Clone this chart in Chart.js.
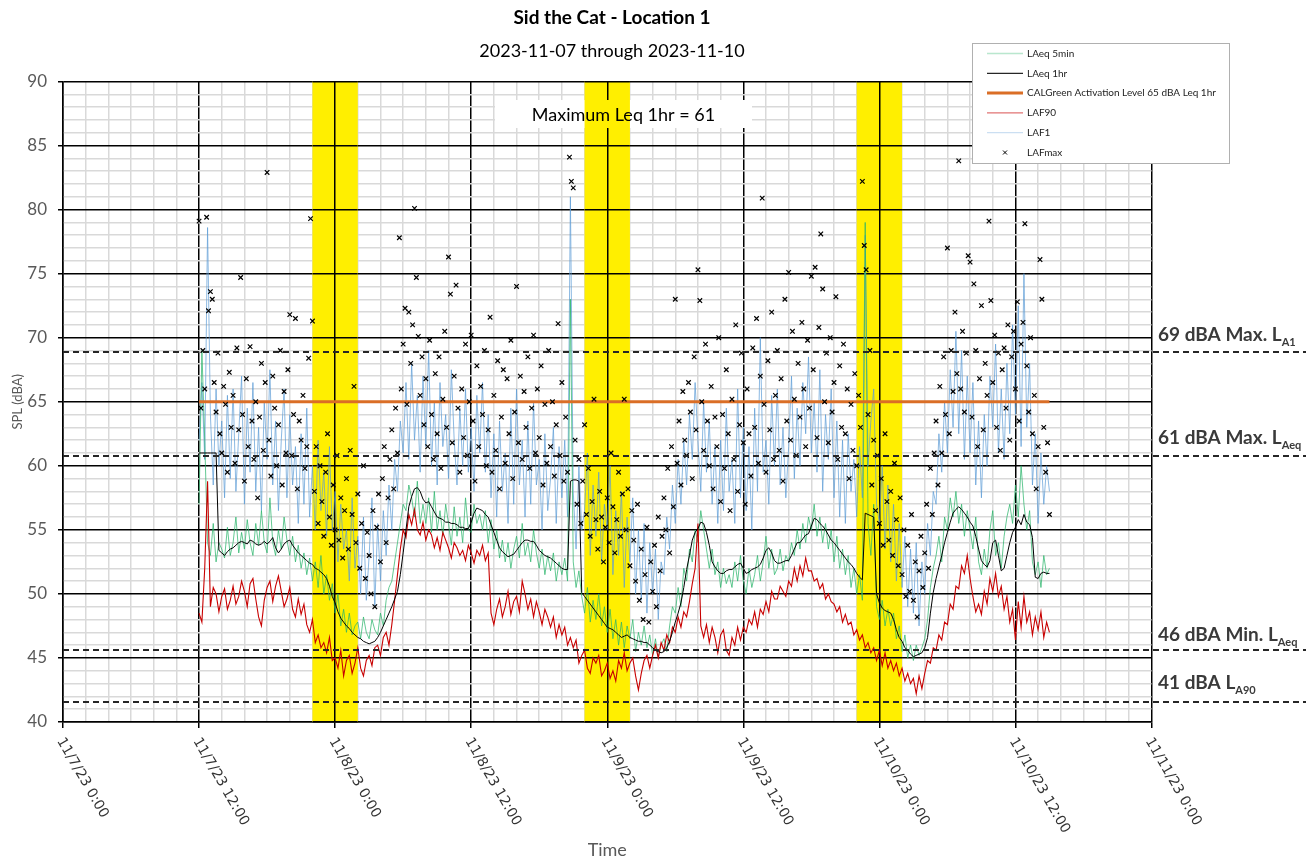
<!DOCTYPE html>
<html><head><meta charset="utf-8">
<script src="https://cdn.jsdelivr.net/npm/chart.js@4.4.0/dist/chart.umd.min.js"></script>
<style>html,body{margin:0;padding:0;background:#fff;}#wrap{width:1316px;height:861px;}</style>
</head><body><div id="wrap"><canvas id="c" width="1316" height="861"></canvas></div>
<script>
// ---------- DATA ----------
const titleText = 'Sid the Cat - Location 1';
const subtitleText = '2023-11-07 through 2023-11-10';
const maxLeqText = 'Maximum Leq 1hr = 61';
// time axis in hours from 11/7/23 0:00
const startHour = 12;          // first sample 11/7/23 12:00
const stepLine = 0.25;         // 15-minute samples for the line series
const stepMax = 1 / 6;         // 10-minute samples for LAFmax
const xTickHours = [0, 12, 24, 36, 48, 60, 72, 84, 96];
const xTickLabels = ['11/7/23 0:00', '11/7/23 12:00', '11/8/23 0:00', '11/8/23 12:00', '11/9/23 0:00',
  '11/9/23 12:00', '11/10/23 0:00', '11/10/23 12:00', '11/11/23 0:00'];
const nightBands = [[22, 26], [46, 50], [70, 74]];
const calGreenLevel = 65;
const calGreenSpan = [12, 87];
const refValues = [68.9, 60.8, 45.6, 41.6];
const refLabels = ['69 dBA Max. L', '61 dBA Max. L', '46 dBA Min. L', '41 dBA L'];
const refSubs = ['A1', 'Aeq', 'Aeq', 'A90'];

const laeq1hr = [
61.0,61.0,61.0,61.0, 61.0,61.0,61.0,53.4, 53.2,53.0,53.3,53.5,
53.6,53.8,54.0,54.1, 54.0,53.9,54.2,54.1, 53.9,53.8,53.9,54.1,
53.9,54.1,54.4,53.6, 53.2,53.5,53.9,54.1, 54.2,53.8,53.5,53.2,
53.0,52.8,52.6,52.4, 52.3,52.0,51.9,51.7, 51.5,51.2,50.6,49.8,
49.3,48.6,48.1,47.8, 47.5,47.3,47.0,46.8, 46.6,46.5,46.3,46.2,
46.1,46.2,46.3,46.6, 47.0,47.5,48.0,48.5, 49.0,49.6,50.2,51.5,
53.2,55.0,56.8,57.6, 58.2,58.3,58.0,57.4, 57.1,57.2,56.8,56.4,
56.0,55.9,55.8,55.6, 55.6,55.5,55.5,55.4, 55.2,55.2,55.1,55.1,
55.6,56.3,56.7,56.6, 56.5,56.2,56.0,55.4, 54.8,54.2,53.6,53.3,
53.1,52.9,53.0,53.1, 53.4,53.7,54.0,54.2, 54.2,54.1,54.1,53.8,
53.4,53.2,53.0,52.9, 52.8,52.6,52.4,52.2, 52.0,51.9,51.9,58.8,
58.9,58.9,58.8,50.1, 49.8,49.5,49.2,48.9, 48.6,48.3,48.0,47.7,
47.4,47.3,47.2,47.0, 46.8,46.6,46.7,46.8, 46.6,46.5,46.4,46.3,
46.3,46.2,46.2,46.0, 45.8,45.6,45.5,45.4, 45.5,45.8,46.3,47.0,
47.8,48.5,49.3,50.5, 51.9,53.0,54.2,54.8, 55.1,55.6,55.5,54.8,
53.8,52.5,52.1,51.8, 51.6,51.6,51.8,51.9, 51.9,52.1,52.3,52.4,
52.0,51.6,51.7,51.9, 52.0,52.1,52.3,52.8, 53.4,53.6,53.2,52.6,
52.4,52.4,52.5,52.6, 52.6,53.0,53.5,54.0, 54.0,54.3,54.6,54.7,
55.3,55.9,55.8,55.5, 55.3,55.0,54.6,54.2, 54.0,53.7,53.4,53.1,
52.8,52.5,52.3,52.0, 51.6,51.3,51.1,56.3, 56.2,56.1,56.0,50.0,
49.3,48.9,48.7,48.6, 48.5,48.0,47.2,46.6, 46.3,45.8,45.6,45.3,
45.1,45.2,45.3,45.4, 45.8,46.6,48.5,50.1, 51.2,52.1,53.0,54.0,
54.8,55.6,56.3,56.6, 56.8,56.6,56.3,56.0, 55.6,55.3,54.5,53.5,
52.6,52.3,52.1,52.6, 54.0,54.2,53.0,51.8, 52.0,53.0,54.0,54.8,
55.2,55.8,55.4,56.2, 55.6,55.4,54.4,51.3, 51.2,51.6,51.7,51.6,
51.6];

const laeq5min = [
57.0,69.0,62.0,54.0, 53.0,55.5,52.5,54.0, 53.5,52.8,55.2,53.0,
54.0,56.0,53.2,54.8, 53.5,55.8,54.0,53.0, 55.5,53.8,56.5,54.0,
53.2,57.5,54.0,53.0, 55.0,53.5,56.0,54.2, 53.0,54.5,52.5,53.8,
52.0,53.2,51.5,52.8, 51.0,52.5,50.5,53.0, 50.0,51.5,49.5,50.8,
48.5,50.0,47.5,48.8, 47.0,48.5,46.8,47.5, 47.8,46.5,48.2,47.0,
46.5,48.0,47.2,46.8, 48.5,47.5,49.5,50.5, 51.0,52.5,54.0,55.5,
57.0,56.5,58.5,57.5, 56.0,58.8,55.5,57.0, 55.5,57.5,54.8,58.0,
55.0,56.5,54.5,57.0, 55.5,53.8,56.8,54.5, 56.0,54.0,57.5,55.0,
54.8,57.0,55.5,56.2, 55.0,56.5,54.0,55.8, 53.5,55.0,52.8,54.2,
52.5,54.0,52.0,53.5, 54.5,52.8,55.5,53.0, 54.0,52.5,55.0,53.2,
52.0,53.5,51.5,53.0, 51.8,53.2,51.0,52.5, 51.5,52.8,51.0,73.0,
52.5,50.5,51.8,49.8, 48.5,50.5,47.8,49.5, 48.0,50.0,47.5,49.0,
47.0,48.8,46.5,48.0, 46.0,47.8,45.8,47.5, 46.5,48.0,45.5,47.0,
46.0,47.5,45.8,46.8, 45.2,46.5,45.0,46.0, 46.5,45.5,47.5,49.0,
48.5,50.5,49.0,52.0, 51.0,53.5,52.5,55.0, 54.0,56.5,55.0,53.5,
52.0,53.5,51.5,52.5, 50.5,52.0,50.8,51.5, 50.5,52.5,51.0,53.0,
51.0,50.0,52.0,50.5, 51.5,53.0,51.0,52.5, 54.5,52.0,53.5,51.5,
52.0,53.5,51.8,53.0, 52.5,54.0,53.0,55.0, 53.5,55.5,54.0,56.0,
55.0,57.0,54.5,56.0, 54.0,55.5,53.5,55.0, 52.5,54.5,52.0,53.5,
51.5,53.0,50.5,52.0, 50.0,51.5,49.5,79.0, 55.5,53.0,57.0,49.0,
48.0,49.5,47.5,48.8, 47.5,48.5,46.5,47.5, 45.5,46.8,45.0,46.0,
44.8,46.0,45.2,45.8, 46.5,48.0,50.5,52.0, 53.0,54.5,52.5,56.0,
55.0,57.5,56.0,58.0, 55.5,57.0,54.5,56.5, 55.0,53.5,56.0,52.5,
51.5,53.5,52.0,55.0, 56.5,53.0,54.0,52.0, 54.5,56.0,57.0,55.5,
58.5,56.0,60.0,57.0, 55.0,56.5,52.5,51.5, 52.5,50.5,53.0,51.5,
52.0];

const laf90 = [
48.5,47.8,52.0,58.8, 49.0,50.5,50.0,48.6, 49.8,50.4,48.8,49.5,
50.6,49.2,49.8,51.0, 50.2,49.0,50.8,51.2, 49.6,48.2,47.5,49.5,
50.5,51.0,49.4,50.6, 51.4,50.2,49.0,49.6, 50.5,48.8,48.2,49.6,
48.4,49.2,47.6,47.0, 48.0,46.2,46.8,45.8, 46.2,45.4,46.6,44.8,
45.0,44.2,45.6,43.6, 44.8,45.2,43.8,44.6, 45.8,44.2,43.6,44.8,
45.2,44.4,45.8,46.0, 45.2,46.6,47.0,46.0, 47.6,49.5,51.5,53.5,
55.0,54.4,56.2,55.4, 56.6,55.0,54.6,55.6, 54.2,55.0,54.6,53.6,
54.4,53.4,54.8,54.2, 53.6,52.8,54.0,53.6, 53.0,53.4,52.6,53.8,
53.2,52.4,53.4,53.0, 53.8,52.6,53.2,48.5, 47.6,48.8,49.6,48.2,
49.0,50.2,48.4,49.4, 49.8,48.6,51.0,50.0, 48.8,49.6,48.2,49.4,
48.6,47.6,48.8,48.2, 47.4,48.2,46.6,47.6, 46.8,47.4,46.0,46.6,
45.8,46.4,44.6,45.2, 45.6,44.2,43.8,45.0, 44.6,45.2,43.6,44.0,
44.6,43.4,44.0,43.2, 44.8,44.2,45.4,44.0, 44.6,45.0,43.6,42.5,
43.8,44.8,45.2,44.2, 45.2,46.0,45.0,46.2, 45.6,46.8,46.2,47.4,
47.0,48.2,47.4,48.6, 48.2,49.4,50.8,52.0, 55.5,47.5,46.6,47.6,
46.2,47.4,46.6,45.4, 46.8,47.2,45.6,45.2, 46.6,46.0,47.4,46.4,
47.4,47.0,48.0,47.6, 48.6,47.4,48.8,48.4, 49.4,48.6,50.2,49.6,
49.6,50.6,50.2,49.8, 51.0,50.6,52.0,51.0, 52.2,51.4,52.8,51.8,
51.8,51.0,51.2,50.4, 50.8,49.6,50.0,49.4, 49.2,48.6,49.0,47.8,
48.4,47.6,47.8,46.8, 47.2,46.4,46.8,45.8, 46.2,45.4,45.8,44.8,
45.6,44.4,45.4,44.2, 44.8,44.0,44.6,43.6, 44.2,43.2,43.8,43.0,
43.4,42.2,43.6,42.6, 43.8,44.8,44.6,45.8, 45.6,46.8,46.4,47.8,
47.6,49.2,48.8,50.6, 50.4,52.2,51.6,53.0, 51.2,49.8,48.6,49.2,
48.4,50.2,49.2,51.2, 50.2,51.6,49.8,50.6, 48.8,49.8,47.8,48.8,
46.4,49.4,47.4,49.8, 47.8,48.6,46.8,48.2, 47.2,48.6,46.6,47.8,
47.0];

const laf1 = [
62.0,66.5,60.5,78.6, 64.0,58.5,66.0,60.0, 63.5,57.5,65.5,59.0,
66.0,58.0,62.5,67.0, 57.0,64.5,59.5,66.5, 58.0,63.0,56.5,65.0,
60.5,67.5,58.5,63.5, 56.5,62.0,66.0,57.5, 64.0,58.5,61.5,55.5,
62.5,57.0,64.5,56.0, 60.0,55.0,62.0,56.5, 59.5,54.5,61.5,55.0,
58.0,52.5,57.0,53.5, 55.0,51.0,57.5,52.0, 54.5,50.0,56.0,49.5,
53.0,57.5,49.0,55.5, 51.0,56.5,53.0,58.5, 55.0,60.5,58.0,63.5,
61.0,66.5,60.5,68.0, 62.0,65.5,59.5,67.0, 61.5,69.0,60.0,65.0,
58.5,66.5,61.5,64.0, 59.0,67.5,62.0,58.5, 64.5,60.0,66.0,59.5,
63.0,58.0,65.5,61.0, 66.5,59.5,64.0,57.5, 62.5,56.0,63.5,58.0,
61.0,55.5,64.5,57.0, 66.0,58.5,62.0,56.0, 63.5,57.0,65.0,58.5,
60.5,55.0,62.5,56.5, 59.0,63.0,55.5,61.5, 57.5,62.0,56.0,81.0,
58.0,53.5,60.0,55.0, 56.5,61.0,53.0,58.5, 54.5,59.5,52.5,57.0,
55.0,60.0,51.5,56.5, 53.0,58.0,50.5,56.0, 52.5,57.5,50.0,55.0,
49.5,55.5,48.5,54.0, 50.0,53.5,48.0,52.5, 51.5,56.0,53.5,58.5,
55.5,60.5,57.0,62.0, 58.5,64.0,60.5,66.5, 62.0,58.0,65.0,59.5,
63.5,57.0,61.5,55.5, 62.0,56.5,64.5,58.0, 60.5,55.5,66.0,57.5,
63.0,56.5,61.5,55.0, 64.5,58.0,70.0,59.5, 62.0,57.0,65.5,60.0,
66.0,58.5,63.0,57.5, 61.5,67.0,59.0,64.5, 60.0,66.5,62.5,68.5,
61.0,65.0,59.5,67.5, 58.0,64.0,60.5,66.0, 57.5,63.5,56.0,62.0,
55.5,62.5,58.0,60.5, 56.0,61.5,57.5,78.0, 60.0,63.5,66.0,57.0,
55.5,60.0,53.5,58.5, 52.5,57.0,51.0,55.5, 50.5,54.5,49.0,53.5,
48.5,54.0,47.5,52.5, 50.0,55.5,53.0,58.0, 57.0,62.5,59.5,65.0,
61.0,67.5,63.0,70.5, 62.5,69.0,60.5,67.0, 61.0,66.5,58.5,63.5,
57.5,64.0,60.0,67.0, 63.0,69.5,61.0,66.0, 60.5,68.0,62.5,71.0,
64.0,72.5,61.5,75.0, 63.0,68.0,58.5,62.5, 55.5,61.0,57.0,60.0,
58.0];

const lafmax = [
79.1,64.5,69.0,66.0,79.4,72.1, 73.6,73.0,66.5,64.2,68.8,62.5, 61.0,66.2,64.8,59.5,67.3,63.0,
65.5,60.2,69.2,62.8,74.7,64.0, 58.8,66.8,61.5,69.3,63.5,60.5, 65.0,57.5,63.8,68.0,61.2,66.5,
82.9,62.0,59.2,67.0,64.5,60.0, 63.2,69.0,58.5,65.8,61.0,67.5, 71.8,60.8,64.0,71.5,58.2,63.5,
62.0,65.5,59.8,61.5,68.4,79.3, 71.3,58.0,61.5,55.5,60.0,57.2, 54.5,59.5,62.5,56.0,53.8,58.5,
55.0,60.8,54.2,57.5,52.8,56.5, 59.0,53.5,61.2,56.2,66.2,54.0, 57.8,52.0,55.5,60.0,51.2,54.8,
53.0,50.0,56.5,49.0,55.2,57.8, 52.5,59.0,61.5,54.0,57.5,60.5, 62.8,58.2,64.5,61.0,77.8,66.0,
69.5,72.3,64.8,72.0,68.0,71.0, 80.1,74.7,70.1,65.5,68.5,63.2, 66.8,61.5,69.8,64.0,60.5,67.2,
62.5,68.5,59.8,65.2,70.5,63.0, 76.3,73.4,61.8,67.0,74.1,64.5, 59.5,66.0,62.2,69.5,60.8,65.0,
70.2,63.5,58.8,67.8,61.5,66.2, 64.0,69.0,60.0,62.8,71.6,59.5, 65.5,61.2,68.2,58.2,63.8,67.5,
60.2,66.8,62.5,69.8,59.0,64.2, 74.0,61.8,67.0,60.5,65.8,63.0, 68.5,59.8,64.5,70.2,61.0,66.0,
62.2,67.8,58.5,64.8,60.2,69.0, 61.5,65.0,59.2,63.2,71.1,60.8, 66.5,58.8,63.8,59.5,84.1,82.2,
81.7,62.0,57.0,60.5,55.5,58.8, 63.2,56.2,59.8,54.5,57.2,65.2, 55.8,53.5,58.0,56.0,52.5,55.2,
57.5,54.0,61.0,56.8,53.2,55.8, 59.5,54.5,57.8,65.2,55.0,58.2, 52.2,56.5,54.2,51.0,57.0,49.5,
53.5,48.0,51.5,55.2,47.8,52.5, 50.2,53.8,49.0,56.0,51.8,54.5, 57.5,55.0,59.8,53.2,61.5,56.8,
73.0,60.2,63.5,58.5,65.8,62.0, 60.8,66.5,64.2,59.0,68.5,62.8, 75.3,72.9,65.0,61.2,69.5,63.5,
60.0,66.2,58.2,63.8,61.5,70.0, 57.2,64.0,59.8,67.5,62.5,56.5, 65.2,60.5,71.0,58.0,63.2,68.8,
61.8,57.0,66.0,62.5,59.2,69.2, 63.0,71.5,60.2,67.0,80.9,64.8, 59.5,68.2,62.8,72.0,60.5,65.5,
69.0,61.2,66.8,58.8,73.0,63.5, 75.1,62.0,70.5,65.2,60.8,68.0, 63.8,71.2,66.0,61.5,69.8,64.5,
74.8,67.5,75.5,62.2,70.8,78.1, 73.8,65.0,68.8,61.8,70.0,64.2, 66.5,73.2,60.5,67.8,63.0,69.5,
62.5,66.0,59.0,64.8,61.2,67.2, 60.0,65.5,63.0,82.2,77.2,75.3, 64.0,69.0,58.5,62.0,56.5,60.8,
55.5,59.0,53.8,62.5,57.2,54.2, 58.0,53.0,60.2,55.8,52.2,57.5, 51.5,55.0,49.8,53.8,50.2,56.2,
49.5,52.5,48.2,51.8,54.5,50.5, 53.2,57.0,52.0,59.8,56.2,61.0, 63.5,58.5,66.2,61.0,68.5,64.0,
77.0,62.5,69.0,65.8,72.0,67.2, 83.8,66.0,70.5,64.2,68.8,76.4, 75.9,63.8,74.2,69.0,61.5,66.8,
72.5,62.8,68.0,65.5,79.1,72.9, 66.5,70.2,63.0,68.8,61.2,67.5, 69.2,64.5,71.0,62.0,68.5,70.5,
66.0,72.8,63.5,69.5,71.2,78.9, 67.8,64.2,70.0,62.5,65.5,58.2, 61.5,76.1,73.0,63.0,59.5,61.8,
56.2];

// ---------- STYLE ----------
const GRID_W = 1.5;
const noteBox = { x: 495, y: 100, w: 257, h: 28 };
const refEndX = 1306, refTextX = 1158;
const refBaseOffsets = [11, 12, 9, 13];
const legendBox = { x: 972, y: 43, w: 257, h: 120 };

const toPoints = (arr, step) => arr.map((v, i) => ({ x: startHour + i * step, y: v }));
const isMajorX = v => v % 12 === 0;
const isMajorY = v => v % 5 === 0;
const al = (p, w) => Math.round(p - w / 2) + w / 2;

const deco = {
  id: 'deco',
  beforeDatasetsDraw(chart) {
    const { ctx, chartArea: a, scales: { x, y } } = chart;
    const b = noteBox;
    ctx.save();
    ctx.fillStyle = '#fff';
    ctx.fillRect(b.x, b.y, b.w, b.h);
    nightBands.forEach(([s, e]) => {
      const x0 = x.getPixelForValue(s), x1 = x.getPixelForValue(e);
      ctx.fillStyle = '#FFEF00';
      ctx.fillRect(x0, a.top, x1 - x0, a.bottom - a.top);
      ctx.save();
      ctx.beginPath();
      ctx.rect(x0, a.top - 2, x1 - x0, a.bottom - a.top + 4);
      ctx.rect(b.x, b.y, b.w, b.h);
      ctx.clip('evenodd');
      ctx.strokeStyle = '#000'; ctx.lineWidth = GRID_W;
      y.ticks.forEach(t => {
        if (!isMajorY(t.value)) return;
        const py = al(y.getPixelForValue(t.value), GRID_W);
        ctx.beginPath(); ctx.moveTo(x0, py); ctx.lineTo(x1, py); ctx.stroke();
      });
      x.ticks.forEach(t => {
        if (!isMajorX(t.value) || t.value <= s || t.value >= e) return;
        const px = al(x.getPixelForValue(t.value), GRID_W);
        ctx.beginPath(); ctx.moveTo(px, a.top); ctx.lineTo(px, a.bottom); ctx.stroke();
      });
      ctx.restore();
    });
    ctx.fillStyle = '#000';
    ctx.font = '18px Lato';
    ctx.textAlign = 'center'; ctx.textBaseline = 'middle';
    ctx.fillText(maxLeqText, b.x + b.w / 2, b.y + b.h / 2 + 1);
    ctx.restore();
  },
  afterDatasetsDraw(chart) {
    const { ctx, chartArea: a, scales: { y } } = chart;
    ctx.save();
    ctx.strokeStyle = '#262626'; ctx.lineWidth = 2; ctx.setLineDash([6, 4]);
    refValues.forEach(v => {
      const py = Math.round(y.getPixelForValue(v));
      ctx.beginPath(); ctx.moveTo(a.left, py); ctx.lineTo(refEndX, py); ctx.stroke();
    });
    ctx.setLineDash([]);
    ctx.fillStyle = '#3a3a3a'; ctx.textAlign = 'left'; ctx.textBaseline = 'alphabetic';
    refValues.forEach((v, i) => {
      const base = y.getPixelForValue(v) - refBaseOffsets[i];
      ctx.font = 'bold 19px Lato';
      ctx.fillText(refLabels[i], refTextX, base);
      const w = ctx.measureText(refLabels[i]).width;
      ctx.font = 'bold 11px Lato';
      ctx.fillText(refSubs[i], refTextX + w, base + 5);
    });
    ctx.restore();
  },
  afterDraw(chart) {
    const { ctx, chartArea: a, scales: { x } } = chart;
    ctx.save();
    // titles
    ctx.fillStyle = '#000'; ctx.textAlign = 'center'; ctx.textBaseline = 'middle';
    ctx.font = 'bold 19px Lato'; ctx.fillText(titleText, 612, 18);
    ctx.font = '18px Lato'; ctx.fillText(subtitleText, 612, 51);
    // rotated x tick labels
    ctx.font = '14px "DejaVu Sans"'; ctx.fillStyle = '#333'; ctx.textAlign = 'left';
    xTickHours.forEach((h, i) => {
      const px = x.getPixelForValue(h);
      ctx.save(); ctx.translate(px - 3, a.bottom + 17); ctx.rotate(Math.PI / 3);
      ctx.fillText(xTickLabels[i], 0, 0); ctx.restore();
    });
    // legend
    const L = legendBox;
    ctx.fillStyle = '#fff'; ctx.fillRect(L.x, L.y, L.w, L.h);
    ctx.strokeStyle = '#b0b0b0'; ctx.lineWidth = 1; ctx.strokeRect(L.x + 0.5, L.y + 0.5, L.w, L.h);
    const order = ['LAeq 5min', 'LAeq 1hr', 'CALGreen Activation Level 65 dBA Leq 1hr', 'LAF90', 'LAF1', 'LAFmax'];
    const alphas = [0.45, 0.85, 1, 0.55, 0.45, 1];
    ctx.font = '10px Lato'; ctx.textBaseline = 'middle'; ctx.textAlign = 'left';
    order.forEach((name, i) => {
      const ds = chart.data.datasets.find(d => d.label === name);
      const cy = 53.5 + i * 19.8;
      ctx.save(); ctx.globalAlpha = alphas[i];
      if (ds.showLine === false) {
        ctx.strokeStyle = '#000'; ctx.lineWidth = 1;
        const cx = 1005, r = 2;
        ctx.beginPath(); ctx.moveTo(cx - r, cy - r); ctx.lineTo(cx + r, cy + r);
        ctx.moveTo(cx + r, cy - r); ctx.lineTo(cx - r, cy + r); ctx.stroke();
      } else {
        ctx.strokeStyle = ds.borderColor; ctx.lineWidth = Math.max(ds.borderWidth, 1.3);
        ctx.beginPath(); ctx.moveTo(987, cy); ctx.lineTo(1023, cy); ctx.stroke();
      }
      ctx.restore();
      ctx.fillStyle = '#222'; ctx.fillText(name, 1027, cy);
    });
    ctx.restore();
  }
};

new Chart(document.getElementById('c'), {
  type: 'line',
  data: {
    datasets: [
      { label: 'LAFmax', type: 'scatter', data: toPoints(lafmax, stepMax), showLine: false,
        pointStyle: 'crossRot', pointRadius: 3.2, borderColor: '#000', backgroundColor: '#000',
        borderWidth: 1.2, pointBorderWidth: 1.2, order: 0 },
      { label: 'CALGreen Activation Level 65 dBA Leq 1hr',
        data: calGreenSpan.map(h => ({ x: h, y: calGreenLevel })),
        borderColor: '#DA6E26', borderWidth: 3, pointRadius: 0, order: 1 },
      { label: 'LAeq 1hr', data: toPoints(laeq1hr, stepLine), borderColor: '#000', borderWidth: 1,
        pointRadius: 0, order: 2 },
      { label: 'LAF90', data: toPoints(laf90, stepLine), borderColor: '#C80000', borderWidth: 1.1,
        pointRadius: 0, order: 3 },
      { label: 'LAeq 5min', data: toPoints(laeq5min, stepLine), borderColor: 'rgba(40,180,105,0.72)',
        borderWidth: 1, pointRadius: 0, order: 4 },
      { label: 'LAF1', data: toPoints(laf1, stepLine), borderColor: 'rgba(91,155,213,0.7)',
        borderWidth: 1, pointRadius: 0, order: 5 }
    ]
  },
  options: {
    responsive: false, animation: false, devicePixelRatio: 1,
    layout: { padding: { top: 81.5, right: 164.5, left: 0, bottom: 0 } },
    plugins: { legend: { display: false }, tooltip: { enabled: false }, title: { display: false } },
    elements: { line: { tension: 0 } },
    scales: {
      x: {
        type: 'linear', min: 0, max: 96,
        afterFit(s) { s.height = 139; },
        ticks: { stepSize: 2, display: false, autoSkip: false },
        grid: {
          color: c => (c.tick && isMajorX(c.tick.value)) ? '#000' : '#d9d9d9',
          lineWidth: GRID_W, tickLength: 6,
          tickColor: c => (c.tick && isMajorX(c.tick.value)) ? '#000' : 'rgba(0,0,0,0)'
        },
        border: { color: '#000', width: 1.5 },
        title: { display: true, text: 'Time', color: '#595959', font: { family: 'Lato', size: 18 },
          padding: { top: 0, bottom: 0 } }
      },
      y: {
        min: 40, max: 90,
        afterFit(s) { s.width = 63; },
        ticks: { stepSize: 1, autoSkip: false, color: '#595959', padding: 11,
          font: { family: 'Lato', size: 17 },
          callback: v => isMajorY(v) ? String(v) : '' },
        grid: {
          color: c => (c.tick && isMajorY(c.tick.value)) ? '#000' : '#d9d9d9',
          lineWidth: GRID_W, tickLength: 5,
          tickColor: c => (c.tick && isMajorY(c.tick.value)) ? '#000' : 'rgba(0,0,0,0)'
        },
        border: { color: '#000', width: 1.5 },
        title: { display: true, text: 'SPL (dBA)', color: '#595959', font: { family: 'Lato', size: 13 },
          padding: { top: 10, bottom: 0 } }
      }
    }
  },
  plugins: [deco]
});
</script>
</body></html>
